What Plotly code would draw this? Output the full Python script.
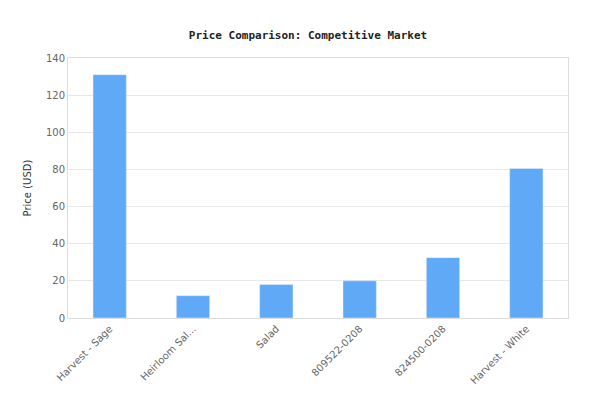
import plotly.graph_objects as go

categories = ["Harvest - Sage", "Heirloom Sal...", "Salad", "809522-0208", "824500-0208", "Harvest - White"]
prices = [131, 12, 18, 20, 32.5, 80.5]

fig = go.Figure(go.Bar(x=categories, y=prices, marker_color="#60a9f6", width=0.4))
fig.update_layout(
    width=600, height=420,
    margin=dict(l=60, r=40, t=50, b=110, autoexpand=False),
    paper_bgcolor="white", plot_bgcolor="white",
    title=dict(text="<b>Price Comparison: Competitive Market</b>", x=0.5, xanchor="center", y=0.945,
               font=dict(family="DejaVu Sans Mono", size=11, color="#222")),
    font=dict(family="DejaVu Sans", size=10, color="#666"),
    showlegend=False,
)
fig.update_xaxes(tickangle=-45, showline=True, linecolor="#ddd", mirror=True, automargin=False,
                 tickfont=dict(color="#666", size=10))
fig.update_yaxes(range=[0, 140], dtick=20, gridcolor="#e8e8e8", showline=True, linecolor="#ddd", mirror=True,
                 automargin=False, tickfont=dict(size=10),
                 title=dict(text="Price (USD)", font=dict(color="#333", size=10), standoff=12), zeroline=False)
fig.write_html("out.html")
